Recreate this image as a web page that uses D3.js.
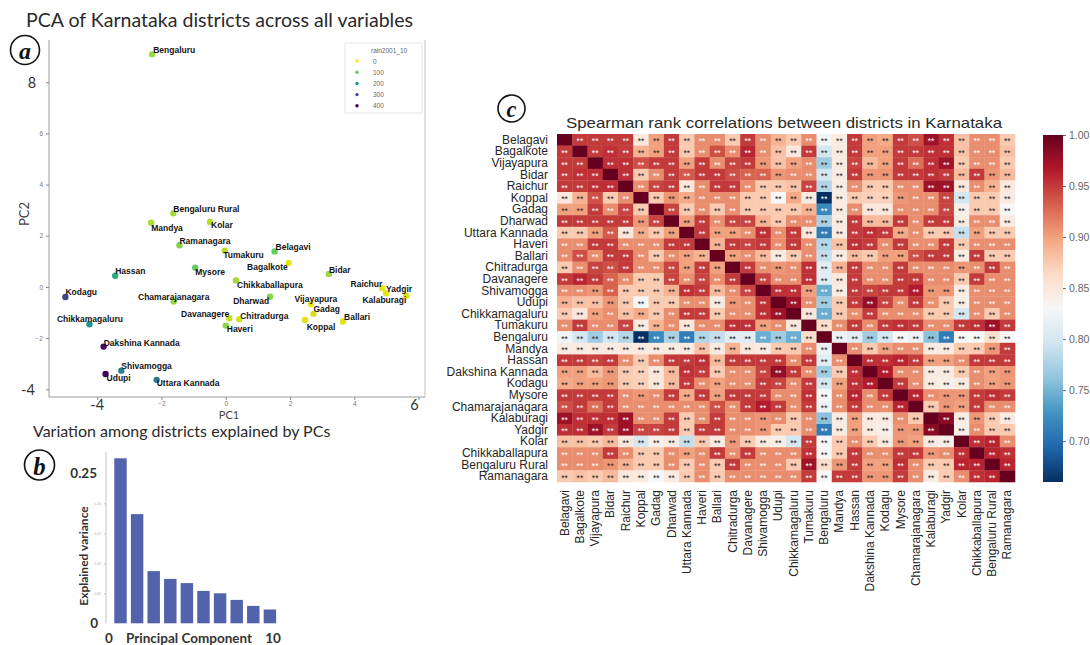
<!DOCTYPE html>
<html>
<head>
<meta charset="utf-8">
<script src="https://cdn.jsdelivr.net/npm/d3@7"></script>
<style>
  body { margin: 0; background: #fff; }
  svg { display: block; }
  text { font-family: "Liberation Sans", Arial, sans-serif; }
  .cal { font-family: Lato, "Open Sans", sans-serif; }
</style>
</head>
<body>
<svg id="fig" width="1090" height="645"></svg>
<script>
// ---------------- data: PCA scores ----------------
const pcaNames = ["Bengaluru","Bengaluru Rural","Mandya","Kolar","Ramanagara","Tumakuru","Belagavi","Bagalkote","Mysore","Hassan","Bidar","Chikkaballapura","Raichur","Yadgir","Kalaburagi","Kodagu","Chamarajanagara","Dharwad","Vijayapura","Gadag","Ballari","Koppal","Chitradurga","Davanagere","Haveri","Chikkamagaluru","Dakshina Kannada","Shivamogga","Udupi","Uttara Kannada"];
const pc1 = [-2.29,-1.63,-2.32,-0.49,-1.44,-0.03,1.52,1.96,-0.95,-3.44,3.21,0.32,4.87,4.99,5.62,-4.99,-1.62,1.38,2.65,2.73,3.65,2.47,0.42,0.11,0.0,-4.24,-3.8,-3.25,-3.74,-2.15];
const pc2 = [9.09,2.88,2.51,2.54,1.63,1.42,1.39,0.94,0.75,0.44,0.51,0.25,-0.05,-0.25,-0.34,-0.39,-0.57,-0.38,-0.68,-1.05,-1.35,-1.29,-1.26,-1.22,-1.51,-1.46,-2.33,-3.27,-3.4,-3.63];
const rain2001_10 = [60,55,50,45,75,45,95,15,95,150,60,55,15,20,25,320,65,75,10,25,20,20,25,35,70,190,390,225,410,235];
const rainLegendTicks = [0,100,200,300,400];

// ---------------- data: explained variance ----------------
const components = [1,2,3,4,5,6,7,8,9,10];
const explainedVariance = [0.275,0.182,0.087,0.074,0.067,0.054,0.050,0.039,0.029,0.023];

// ---------------- data: Spearman correlations (upper triangle, row i holds columns i+1..29) ----------------
const districts = ["Belagavi","Bagalkote","Vijayapura","Bidar","Raichur","Koppal","Gadag","Dharwad","Uttara Kannada","Haveri","Ballari","Chitradurga","Davanagere","Shivamogga","Udupi","Chikkamagaluru","Tumakuru","Bengaluru","Mandya","Hassan","Dakshina Kannada","Kodagu","Mysore","Chamarajanagara","Kalaburagi","Yadgir","Kolar","Chikkaballapura","Bengaluru Rural","Ramanagara"];
const corrUpper = [
  [0.95,0.95,0.95,0.95,0.85,0.90,0.95,0.875,0.91,0.91,0.875,0.95,0.91,0.89,0.875,0.91,0.825,0.845,0.95,0.90,0.895,0.95,0.94,0.975,0.955,0.88,0.91,0.91,0.875],
  [0.95,0.955,0.95,0.89,0.90,0.95,0.875,0.91,0.94,0.91,0.96,0.91,0.88,0.85,0.95,0.80,0.845,0.95,0.90,0.90,0.95,0.95,0.955,0.955,0.88,0.91,0.91,0.88],
  [0.955,0.955,0.94,0.95,0.95,0.90,0.95,0.91,0.945,0.95,0.905,0.88,0.90,0.91,0.77,0.845,0.945,0.885,0.90,0.95,0.925,0.955,0.975,0.875,0.91,0.91,0.875],
  [0.955,0.875,0.91,0.95,0.935,0.95,0.95,0.94,0.93,0.93,0.905,0.91,0.91,0.80,0.845,0.95,0.905,0.905,0.95,0.95,0.955,0.95,0.885,0.95,0.905,0.885],
  [0.91,0.945,0.95,0.85,0.91,0.95,0.95,0.91,0.875,0.875,0.88,0.945,0.78,0.845,0.91,0.875,0.875,0.91,0.91,0.975,0.975,0.85,0.91,0.89,0.85],
  [0.875,0.905,0.895,0.91,0.91,0.91,0.875,0.875,0.83,0.895,0.845,0.66,0.845,0.875,0.87,0.87,0.905,0.91,0.91,0.945,0.80,0.875,0.875,0.845],
  [0.945,0.875,0.91,0.875,0.91,0.875,0.875,0.875,0.875,0.89,0.72,0.845,0.91,0.85,0.85,0.91,0.91,0.91,0.945,0.84,0.875,0.875,0.83],
  [0.90,0.95,0.91,0.945,0.945,0.89,0.875,0.91,0.91,0.775,0.845,0.95,0.885,0.885,0.95,0.91,0.95,0.95,0.845,0.91,0.91,0.845],
  [0.95,0.90,0.90,0.91,0.955,0.91,0.95,0.85,0.71,0.845,0.95,0.955,0.95,0.895,0.91,0.875,0.875,0.79,0.90,0.875,0.875],
  [0.89,0.95,0.945,0.95,0.91,0.95,0.91,0.78,0.88,0.955,0.95,0.91,0.95,0.91,0.91,0.95,0.875,0.91,0.91,0.91],
  [0.90,0.91,0.885,0.845,0.875,0.91,0.79,0.845,0.885,0.875,0.90,0.90,0.94,0.95,0.95,0.845,0.95,0.875,0.875],
  [0.95,0.91,0.905,0.91,0.955,0.81,0.89,0.95,0.91,0.91,0.95,0.91,0.91,0.91,0.905,0.91,0.95,0.91],
  [0.945,0.91,0.91,0.955,0.81,0.85,0.95,0.91,0.91,0.95,0.95,0.91,0.91,0.875,0.95,0.91,0.91],
  [0.955,0.955,0.90,0.745,0.845,0.95,0.945,0.95,0.95,0.965,0.905,0.905,0.845,0.91,0.91,0.91],
  [0.975,0.91,0.77,0.875,0.95,0.98,0.945,0.91,0.95,0.91,0.875,0.84,0.91,0.91,0.91],
  [0.85,0.745,0.875,0.91,0.95,0.91,0.91,0.91,0.875,0.875,0.80,0.91,0.875,0.91],
  [0.86,0.91,0.95,0.91,0.95,0.955,0.95,0.91,0.91,0.95,0.955,0.975,0.95],
  [0.82,0.81,0.77,0.80,0.83,0.82,0.76,0.71,0.83,0.83,0.86,0.83],
  [0.91,0.875,0.90,0.91,0.91,0.845,0.845,0.875,0.875,0.905,0.95],
  [0.955,0.955,0.96,0.95,0.90,0.90,0.91,0.95,0.95,0.95],
  [0.965,0.91,0.91,0.845,0.845,0.875,0.91,0.90,0.905],
  [0.95,0.91,0.845,0.84,0.845,0.91,0.90,0.905],
  [0.96,0.91,0.905,0.905,0.95,0.955,0.95],
  [0.875,0.905,0.90,0.95,0.91,0.91],
  [0.985,0.845,0.905,0.875,0.845],
  [0.84,0.91,0.875,0.875],
  [0.955,0.96,0.91],
  [0.96,0.955],
  [0.96]
];
const colorbarTicks = [0.70,0.75,0.80,0.85,0.90,0.95,1.00];

// label placement for the scatter annotations: [dx, dy, anchor]
const labelPlacement = {
  "Bengaluru":[1,-4,"start"], "Bengaluru Rural":[0,-4.5,"start"], "Mandya":[0,5,"start"],
  "Kolar":[1,3.5,"start"], "Ramanagara":[0,-4.5,"start"], "Tumakuru":[-1.5,4.5,"start"],
  "Belagavi":[1,-4.5,"start"], "Bagalkote":[-1,4.5,"end"], "Mysore":[0,4.5,"start"],
  "Hassan":[0,-4.5,"start"], "Bidar":[0,-4,"start"], "Chikkaballapura":[1,4.5,"start"],
  "Raichur":[0,-4,"end"], "Yadgir":[0,-4.5,"start"], "Kalaburagi":[0,4.3,"end"],
  "Kodagu":[0,-4.5,"start"], "Chamarajanagara":[0,-4.5,"middle"], "Dharwad":[-1,4,"end"],
  "Vijayapura":[5,-5,"middle"], "Gadag":[0,-4.5,"start"], "Ballari":[1,-5,"start"],
  "Koppal":[1.5,7,"start"], "Chitradurga":[1,-3.5,"start"], "Davanagere":[0,-4,"end"],
  "Haveri":[1,3.5,"start"], "Chikkamagaluru":[0.5,-5,"middle"], "Dakshina Kannada":[0,-4,"start"],
  "Shivamogga":[0,-4.5,"start"], "Udupi":[1,4.5,"start"], "Uttara Kannada":[0,3.5,"start"]
};

const svg = d3.select("#fig");

// circled panel letters
function panelLetter(cx, cy, r, letter) {
  const g = svg.append("g");
  g.append("circle").attr("cx", cx).attr("cy", cy).attr("r", r)
    .attr("fill", "#fff").attr("stroke", "#111").attr("stroke-width", 1.6);
  g.append("text").attr("x", cx).attr("y", cy + 1)
    .attr("text-anchor", "middle").attr("dominant-baseline", "central")
    .style("font-family", "'Liberation Serif', 'DejaVu Serif', serif")
    .style("font-style", "italic").style("font-weight", "bold")
    .style("font-size", (r * 1.65) + "px").attr("fill", "#111").text(letter);
}

// ================= panel a: PCA scatter =================
const xA = d3.scaleLinear().domain([-5.5, 6.2]).range([49, 425]);
const yA = d3.scaleLinear().domain([-4.3, 9.65]).range([397, 40]);
const rainColor = d3.scaleSequential(t => d3.interpolateViridis(1 - t)).domain([0, 400]).clamp(true);

svg.append("text").attr("class", "cal").attr("x", 26).attr("y", 27)
  .attr("textLength", 387).attr("lengthAdjust", "spacingAndGlyphs")
  .style("font-size", "19px").attr("fill", "#2a2a2a")
  .text("PCA of Karnataka districts across all variables");

const gA = svg.append("g");
// frame
gA.append("line").attr("x1", 49).attr("x2", 49).attr("y1", 40).attr("y2", 397).attr("stroke", "#9a9a9a");
gA.append("line").attr("x1", 49).attr("x2", 425).attr("y1", 397).attr("y2", 397).attr("stroke", "#9a9a9a");
gA.append("line").attr("x1", 425).attr("x2", 425).attr("y1", 40).attr("y2", 397).attr("stroke", "#bdbdbd");

const axYA = gA.append("g").attr("transform", "translate(49,0)")
  .call(d3.axisLeft(yA).tickValues([-4, -2, 0, 2, 4, 6, 8]).tickSize(3).tickSizeOuter(0)
    .tickFormat(d => (d === 8 || d === -4) ? "" : d3.format("d")(d)));
const axXA = gA.append("g").attr("transform", "translate(0,397)")
  .call(d3.axisBottom(xA).tickValues([-4, -2, 0, 2, 4, 6]).tickSize(3).tickPadding(1).tickSizeOuter(0)
    .tickFormat(d => (d === 6 || d === -4) ? "" : d3.format("d")(d)));
[axYA, axXA].forEach(ax => {
  ax.select(".domain").remove();
  ax.selectAll(".tick line").attr("stroke", "#8a8a8a");
  ax.selectAll(".tick text").attr("fill", "#777").style("font-size", "6.5px");
});

// larger annotated tick values
const bigTick = (x, y, t) => gA.append("text").attr("class", "cal").attr("x", x).attr("y", y)
  .attr("text-anchor", "middle").attr("dominant-baseline", "central")
  .style("font-size", "14.5px").attr("fill", "#333").text(t);
bigTick(32, yA(8), "8");
bigTick(28, yA(-4), "-4");
bigTick(xA(-4), 404, "-4");
bigTick(xA(6) - 4, 404, "6");

gA.append("text").attr("class", "cal").attr("transform", `translate(24,214) rotate(-90)`)
  .attr("text-anchor", "middle").attr("dominant-baseline", "central")
  .style("font-size", "13px").attr("fill", "#444").text("PC2");
gA.append("text").attr("class", "cal").attr("x", 229).attr("y", 414)
  .attr("text-anchor", "middle").attr("dominant-baseline", "central")
  .style("font-size", "11px").attr("fill", "#444").text("PC1");

const pts = pcaNames.map((n, i) => ({ name: n, x: pc1[i], y: pc2[i], rain: rain2001_10[i] }));
gA.selectAll("circle.pt").data(pts).join("circle").attr("class", "pt")
  .attr("cx", d => xA(d.x)).attr("cy", d => yA(d.y)).attr("r", 3.2)
  .attr("fill", d => rainColor(d.rain));
gA.selectAll("text.lbl").data(pts).join("text").attr("class", "lbl")
  .attr("x", d => xA(d.x) + labelPlacement[d.name][0])
  .attr("y", d => yA(d.y) + labelPlacement[d.name][1])
  .attr("text-anchor", d => labelPlacement[d.name][2])
  .attr("dominant-baseline", "central")
  .style("font-size", "8.5px").style("font-weight", "bold").attr("fill", "#141414")
  .text(d => d.name);

// legend
const lg = gA.append("g");
lg.append("rect").attr("x", 345).attr("y", 43).attr("width", 77).attr("height", 70)
  .attr("fill", "#fff").attr("stroke", "#e6e6e6");
lg.append("text").attr("x", 371).attr("y", 50).attr("dominant-baseline", "central")
  .style("font-size", "6.5px").attr("fill", "#666").text("rain2001_10");
rainLegendTicks.forEach((v, i) => {
  const yy = 61 + i * 11.2;
  lg.append("circle").attr("cx", 357).attr("cy", yy).attr("r", 1.7).attr("fill", rainColor(v));
  lg.append("text").attr("x", 373).attr("y", yy).attr("dominant-baseline", "central")
    .style("font-size", "6.5px").attr("fill", "#666").text(v);
});
panelLetter(25, 50, 14.5, "a");

// ================= panel b: explained variance =================
svg.append("text").attr("class", "cal").attr("x", 33).attr("y", 437)
  .style("font-size", "16px").attr("fill", "#2a2a2a")
  .text("Variation among districts explained by PCs");
const gB = svg.append("g");
const xB = d3.scaleBand().domain(components).range([112.2, 278.2]).paddingInner(0.25).paddingOuter(0.125);
const xBlin = d3.scaleLinear().domain([0, 10]).range([109, 273]);
const yB = d3.scaleLinear().domain([0, 0.25]).range([623.3, 473.3]);

gB.append("line").attr("x1", 106).attr("x2", 106).attr("y1", 452).attr("y2", 623.3).attr("stroke", "#c4c4c4");
const axB = gB.append("g").attr("transform", "translate(106,0)")
  .call(d3.axisLeft(yB).tickValues([0.05, 0.10, 0.15, 0.20]).tickSize(2).tickSizeOuter(0)
    .tickFormat(d3.format(".2f")));
axB.select(".domain").remove();
axB.selectAll(".tick line").attr("stroke", "#c4c4c4");
axB.selectAll(".tick text").attr("fill", "#aaa").style("font-size", "3.5px");

gB.selectAll("rect.bar").data(components).join("rect").attr("class", "bar")
  .attr("x", d => xB(d)).attr("width", xB.bandwidth())
  .attr("y", (d, i) => yB(explainedVariance[i]))
  .attr("height", (d, i) => yB(0) - yB(explainedVariance[i]))
  .attr("fill", "#5263ab");

gB.append("text").attr("class", "cal").attr("x", 97).attr("y", yB(0.25))
  .attr("text-anchor", "end").attr("dominant-baseline", "central")
  .style("font-size", "13.5px").style("font-weight", "bold").attr("fill", "#333").text("0.25");
gB.append("text").attr("class", "cal").attr("x", 98).attr("y", yB(0))
  .attr("text-anchor", "end").attr("dominant-baseline", "central")
  .style("font-size", "13.5px").style("font-weight", "bold").attr("fill", "#333").text("0");
gB.append("text").attr("class", "cal").attr("x", xBlin(0)).attr("y", 638)
  .attr("text-anchor", "middle").attr("dominant-baseline", "central")
  .style("font-size", "13.5px").style("font-weight", "bold").attr("fill", "#333").text("0");
gB.append("text").attr("class", "cal").attr("x", xBlin(10)).attr("y", 638)
  .attr("text-anchor", "middle").attr("dominant-baseline", "central")
  .style("font-size", "13.5px").style("font-weight", "bold").attr("fill", "#333").text("10");
gB.append("text").attr("class", "cal").attr("x", 189).attr("y", 638)
  .attr("text-anchor", "middle").attr("dominant-baseline", "central")
  .style("font-size", "13.5px").style("font-weight", "bold").attr("fill", "#333").text("Principal Component");
gB.append("text").attr("class", "cal").attr("transform", "translate(83,556) rotate(-90)")
  .attr("text-anchor", "middle").attr("dominant-baseline", "central")
  .style("font-size", "12px").style("font-weight", "bold").attr("fill", "#333").text("Explained variance");
panelLetter(39.5, 465, 15, "b");

// ================= panel c: correlation heatmap =================
const matrix = districts.map((_, i) => districts.map((_, j) => {
  if (i === j) return 1;
  return i < j ? corrUpper[i][j - i - 1] : corrUpper[j][i - j - 1];
}));
const vmin = d3.min(matrix.flat());
const vmax = 1;
const rdbu = d3.schemeRdBu[11].slice().reverse();
const heatColor = d3.scaleLinear()
  .domain(d3.range(11).map(k => vmin + k * (vmax - vmin) / 10))
  .range(rdbu).interpolate(d3.interpolateRgb).clamp(true);

const hx = d3.scaleBand().domain(districts).range([557, 1015]);
const hy = d3.scaleBand().domain(districts).range([134, 482]);

svg.append("text").attr("x", 566).attr("y", 128)
  .attr("textLength", 436).attr("lengthAdjust", "spacingAndGlyphs")
  .style("font-size", "14.5px").attr("fill", "#2a2a2a")
  .text("Spearman rank correlations between districts in Karnataka");

const gC = svg.append("g");
const cells = [];
matrix.forEach((row, i) => row.forEach((v, j) => cells.push({ i, j, v })));
gC.selectAll("rect.cell").data(cells).join("rect").attr("class", "cell")
  .attr("x", d => hx(districts[d.j])).attr("y", d => hy(districts[d.i]))
  .attr("width", hx.bandwidth() + 0.3).attr("height", hy.bandwidth() + 0.3)
  .attr("fill", d => heatColor(d.v));

function luminance(c) {
  const rgb = d3.rgb(c);
  const f = u => { u /= 255; return u <= 0.03928 ? u / 12.92 : Math.pow((u + 0.055) / 1.055, 2.4); };
  return 0.2126 * f(rgb.r) + 0.7152 * f(rgb.g) + 0.0722 * f(rgb.b);
}
gC.selectAll("text.ann").data(cells.filter(d => d.i !== d.j)).join("text").attr("class", "ann")
  .attr("x", d => hx(districts[d.j]) + hx.bandwidth() / 2)
  .attr("y", d => hy(districts[d.i]) + hy.bandwidth() / 2 + 4.6)
  .attr("text-anchor", "middle")
  .style("font-size", "8.5px")
  .attr("fill", d => luminance(heatColor(d.v)) > 0.408 ? "#262626" : "#ffffff")
  .text("**");

gC.selectAll("text.rowlab").data(districts).join("text").attr("class", "rowlab")
  .attr("x", 548).attr("y", d => hy(d) + hy.bandwidth() / 2)
  .attr("text-anchor", "end").attr("dominant-baseline", "central")
  .style("font-size", "12px").attr("fill", "#262626").text(d => d);
gC.selectAll("text.collab").data(districts).join("text").attr("class", "collab")
  .attr("transform", d => `translate(${hx(d) + hx.bandwidth() / 2},490) rotate(-90)`)
  .attr("text-anchor", "end").attr("dominant-baseline", "central")
  .style("font-size", "12px").attr("fill", "#262626").text(d => d);

// colorbar
const cbY = d3.scaleLinear().domain([vmin, vmax]).range([482, 135]);
const defs = svg.append("defs");
const grad = defs.append("linearGradient").attr("id", "cbgrad")
  .attr("x1", 0).attr("y1", 1).attr("x2", 0).attr("y2", 0);
d3.range(0, 1.0001, 0.02).forEach(t => {
  grad.append("stop").attr("offset", t).attr("stop-color", heatColor(vmin + t * (vmax - vmin)));
});
svg.append("rect").attr("x", 1043).attr("y", 135).attr("width", 20).attr("height", 347)
  .attr("fill", "url(#cbgrad)");
const axCb = svg.append("g").attr("transform", "translate(1063,0)")
  .call(d3.axisRight(cbY).tickValues(colorbarTicks).tickSize(3).tickSizeOuter(0).tickFormat(d3.format(".2f")));
axCb.select(".domain").remove();
axCb.selectAll(".tick line").attr("stroke", "#666");
axCb.selectAll(".tick text").attr("fill", "#666").style("font-size", "10.5px");

panelLetter(511.5, 108.5, 13.5, "c");
</script>
</body>
</html>
